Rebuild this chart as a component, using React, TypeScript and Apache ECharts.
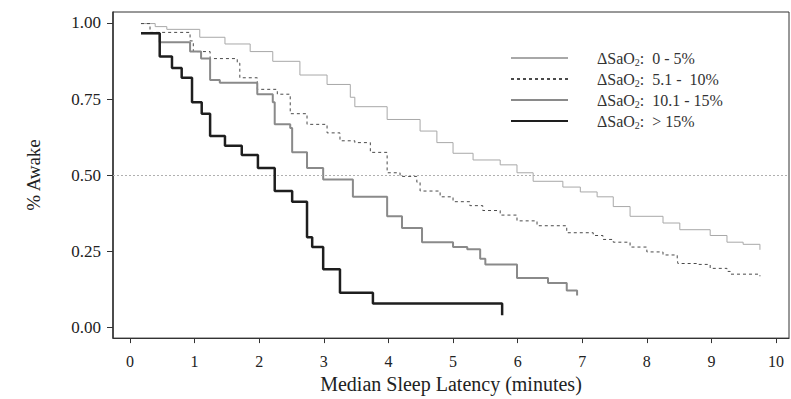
import React, { useEffect, useRef } from 'react';
import * as echarts from 'echarts';

// Legend labels (ΔSaO2 groups)
const groupNames = ['0 - 5%', '5.1 -  10%', '10.1 - 15%', '> 15%'];

// Kaplan-Meier steps: time (minutes) at which % awake drops, and the new value
const timeA = [0.17, 0.39, 0.57, 1.08, 1.47, 1.86, 2.21, 2.63, 3.05, 3.41, 3.48, 3.98, 4.49, 4.75, 5.0, 5.31, 5.73, 5.99, 6.24, 6.7, 6.97, 7.23, 7.48, 7.74, 8.25, 8.51, 8.98, 9.24, 9.49, 9.75];
const awakeA = [0.998, 0.988, 0.979, 0.953, 0.931, 0.906, 0.874, 0.829, 0.798, 0.756, 0.725, 0.683, 0.645, 0.607, 0.572, 0.55, 0.534, 0.508, 0.48, 0.461, 0.445, 0.429, 0.397, 0.365, 0.343, 0.321, 0.302, 0.28, 0.273, 0.255];

const timeB = [0.17, 0.31, 0.93, 0.98, 1.24, 1.66, 1.7, 1.97, 2.28, 2.48, 2.74, 3.05, 3.25, 3.48, 3.72, 3.98, 4.18, 4.44, 4.49, 4.8, 5.0, 5.26, 5.46, 5.73, 5.99, 6.3, 6.76, 7.17, 7.32, 7.48, 7.74, 8.0, 8.25, 8.47, 8.48, 8.78, 8.98, 9.24, 9.29, 9.75];
const awakeB = [0.998, 0.969, 0.941, 0.906, 0.883, 0.868, 0.82, 0.782, 0.766, 0.702, 0.667, 0.639, 0.613, 0.607, 0.575, 0.508, 0.496, 0.477, 0.448, 0.429, 0.413, 0.4, 0.384, 0.369, 0.35, 0.334, 0.311, 0.302, 0.289, 0.28, 0.264, 0.248, 0.238, 0.226, 0.21, 0.207, 0.194, 0.184, 0.175, 0.168];

const timeC = [0.17, 0.46, 0.93, 1.1, 1.24, 1.39, 1.97, 2.21, 2.24, 2.48, 2.51, 2.74, 2.99, 3.45, 3.98, 4.21, 4.52, 5.0, 5.22, 5.42, 5.5, 5.99, 6.47, 6.76, 6.92, 6.92];
const awakeC = [0.966, 0.937, 0.906, 0.883, 0.813, 0.804, 0.766, 0.74, 0.667, 0.655, 0.575, 0.524, 0.486, 0.429, 0.365, 0.327, 0.28, 0.264, 0.257, 0.226, 0.207, 0.162, 0.146, 0.121, 0.121, 0.105];

const timeD = [0.17, 0.46, 0.65, 0.8, 0.96, 1.11, 1.24, 1.47, 1.73, 1.98, 2.24, 2.51, 2.74, 2.82, 2.99, 3.25, 3.76, 5.76, 5.76];
const awakeD = [0.966, 0.89, 0.852, 0.82, 0.74, 0.702, 0.629, 0.597, 0.566, 0.524, 0.448, 0.413, 0.296, 0.264, 0.191, 0.114, 0.079, 0.079, 0.04];

const xTicks = [0, 1, 2, 3, 4, 5, 6, 7, 8, 9, 10];
const yTicks = [0, 0.25, 0.5, 0.75, 1];

const zip = (xs: number[], ys: number[]) => xs.map((x, i) => [x, ys[i]]);

const FONT = '"Liberation Serif", "DejaVu Serif", serif';

export default function App() {
  const ref = useRef<HTMLDivElement>(null);
  useEffect(() => {
    if (!ref.current) return;
    const chart = echarts.init(ref.current, null, { renderer: 'svg' });
    const styles = [
      { color: '#a8a8a8', width: 1, type: 'solid' as any },
      { color: '#4a4a4a', width: 1, type: [3, 3] as any },
      { color: '#8a8a8a', width: 2, type: 'solid' as any },
      { color: '#1e1e1e', width: 2.5, type: 'solid' as any },
    ];
    const datas = [zip(timeA, awakeA), zip(timeB, awakeB), zip(timeC, awakeC), zip(timeD, awakeD)];
    chart.setOption({
      animation: false,
      backgroundColor: '#fff',
      grid: {
        left: 113,
        right: 2,
        top: 12,
        bottom: 50,
        show: true,
        borderColor: '#333',
        borderWidth: 1,
        containLabel: false,
      },
      legend: {
        orient: 'vertical',
        left: 505,
        top: 45,
        itemWidth: 57,
        itemHeight: 12,
        itemGap: 4,
        data: groupNames,
        itemStyle: { opacity: 0 },
        formatter: (n: string) => `ΔSaO{s|2}:  ${n}`,
        textStyle: {
          fontFamily: FONT,
          fontSize: 16,
          color: '#333',
          padding: [0, 0, 0, 24],
          rich: {
            s: { fontFamily: FONT, fontSize: 10, color: '#333', padding: [8, 0, 0, 0] },
          },
        },
      },
      xAxis: {
        type: 'value',
        min: -0.263,
        max: 10.2,
        name: 'Median Sleep Latency (minutes)',
        nameLocation: 'middle',
        nameGap: 30,
        nameTextStyle: { fontFamily: FONT, fontSize: 20, color: '#222' },
        splitLine: { show: false },
        axisLine: { show: true, onZero: false, lineStyle: { color: '#333', width: 1.2 } },
        axisTick: { show: true, customValues: xTicks, length: 5, inside: false, lineStyle: { color: '#333' } },
        axisLabel: {
          customValues: xTicks,
          margin: 15,
          fontFamily: FONT,
          fontSize: 16,
          color: '#222',
          formatter: (v: number) => String(v),
        },
      },
      yAxis: {
        type: 'value',
        min: -0.035,
        max: 1.036,
        name: '% Awake',
        nameLocation: 'middle',
        nameGap: 70,
        nameTextStyle: { fontFamily: FONT, fontSize: 19, color: '#222' },
        splitLine: { show: false },
        axisLine: { show: true, onZero: false, lineStyle: { color: '#333', width: 1.5 } },
        axisTick: { show: true, customValues: yTicks, length: 6, inside: false, lineStyle: { color: '#333' } },
        axisLabel: {
          customValues: yTicks,
          margin: 12,
          fontFamily: FONT,
          fontSize: 17,
          color: '#222',
          formatter: (v: number) => v.toFixed(2),
        },
      },
      series: groupNames.map((name, i) => ({
        name,
        type: 'line',
        step: 'end',
        data: datas[i],
        showSymbol: false,
        symbol: 'none',
        color: styles[i].color,
        lineStyle: styles[i],
        z: 2 + i,
        markLine:
          i === 0
            ? {
                silent: true,
                symbol: 'none',
                label: { show: false },
                lineStyle: { color: '#b0b0b0', width: 1, type: [2, 2] },
                data: [{ yAxis: 0.5 }],
              }
            : undefined,
      })),
    });
    return () => chart.dispose();
  }, []);
  return (
    <div
      ref={ref}
      style={{ position: 'fixed', left: 0, top: 0, width: 791, height: 399, background: '#fff' }}
    />
  );
}
